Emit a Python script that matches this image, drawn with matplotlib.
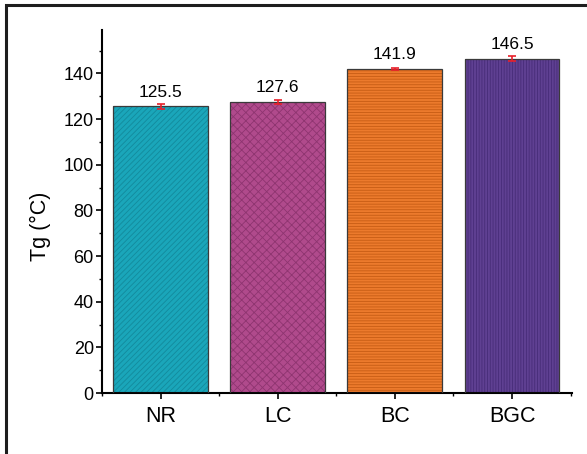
import matplotlib
matplotlib.use("Agg")
import matplotlib.pyplot as plt
from matplotlib.patches import Rectangle
from matplotlib.ticker import MultipleLocator
import numpy as np

plt.rcParams['font.family'] = ['Liberation Sans', 'DejaVu Sans']
plt.rcParams['hatch.linewidth'] = 0.6

categories = ["NR", "LC", "BC", "BGC"]
tg_values = [125.5, 127.6, 141.9, 146.5]
tg_errors = [1.2, 0.8, 0.6, 1.0]
fill_colors = ["#1aa6ba", "#b04a8c", "#ec7a2c", "#5f4092"]
hatch_colors = ["#138a9c", "#8e3570", "#c65c14", "#472c78"]
hatches = ["//////", "xxxx", "------", "||||||"]

fig = plt.figure(figsize=(5.87, 4.54), dpi=100)
ax = fig.add_axes([0.174, 0.134, 0.800, 0.800])

x = np.arange(len(categories))
for xi, v, fc, hc, h in zip(x, tg_values, fill_colors, hatch_colors, hatches):
    ax.bar(xi, v, width=0.81, color=fc, edgecolor=hc, hatch=h, linewidth=0, zorder=2)
    ax.bar(xi, v, width=0.81, fill=False, edgecolor="#3a3a3a", linewidth=0.9, zorder=3)

ax.errorbar(x, tg_values, yerr=tg_errors, fmt="none", ecolor="#e8202a",
            elinewidth=1.2, capsize=3, capthick=1.2, zorder=4)

for xi, v in zip(x, tg_values):
    ax.text(xi, v + 3.0, f"{v:.1f}", ha="center", va="bottom", fontsize=12.5)

ax.set_xlim(-0.5, 3.51)
ax.set_ylim(0, 159)
ax.set_xticks(x)
ax.set_xticklabels(categories, fontsize=15.5)
ax.xaxis.set_minor_locator(MultipleLocator(1.0, offset=0.5))
ax.yaxis.set_major_locator(MultipleLocator(20))
ax.yaxis.set_minor_locator(MultipleLocator(10))
ax.tick_params(axis="y", which="major", direction="out", length=4, width=1.2, labelsize=13, pad=2)
ax.tick_params(axis="y", which="minor", direction="out", length=2.5, width=1)
ax.tick_params(axis="x", which="major", direction="out", length=4, width=1.2, pad=5)
ax.tick_params(axis="x", which="minor", direction="out", length=2.5, width=1)
ax.set_ylabel("Tg (°C)", fontsize=15.5)
ax.yaxis.set_label_coords(-0.108, 0.46)

for side in ["top", "right"]:
    ax.spines[side].set_visible(False)
for side in ["left", "bottom"]:
    ax.spines[side].set_linewidth(1.5)

# outer frame around the figure
fig.patches.append(Rectangle((6 / 587, -0.01), 1.2, 1 - 5 / 454 + 0.01,
                             transform=fig.transFigure, fill=False,
                             edgecolor="#1e1e1e", linewidth=2.2))

fig.savefig("out.png", dpi=100)
